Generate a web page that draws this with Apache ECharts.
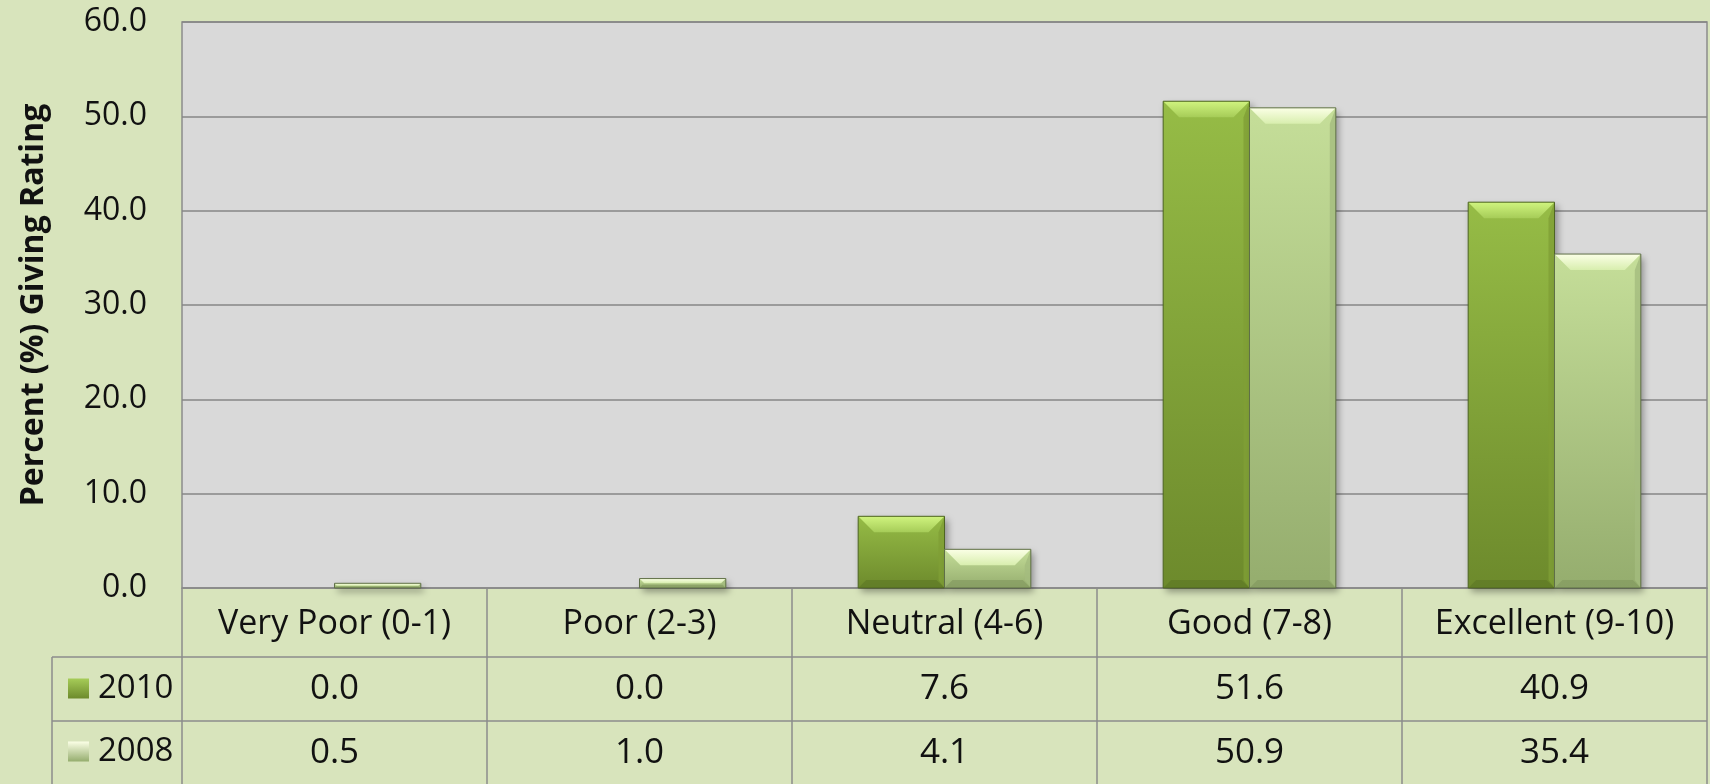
<!DOCTYPE html>
<html>
<head>
<meta charset="utf-8">
<script src="https://cdn.jsdelivr.net/npm/echarts@6/dist/echarts.min.js"></script>
<style>
  html, body { margin: 0; padding: 0; background: #d8e4bc; }
  #chart { width: 1710px; height: 784px; }
</style>
</head>
<body>
<div id="chart"></div>
<script>
// ratings by year
const categories = ['Very Poor (0-1)', 'Poor (2-3)', 'Neutral (4-6)', 'Good (7-8)', 'Excellent (9-10)'];
const values2010 = [0.0, 0.0, 7.6, 51.6, 40.9];
const values2008 = [0.5, 1.0, 4.1, 50.9, 35.4];
const yTicks = [0, 10, 20, 30, 40, 50, 60];

const GRID = {left: 182, right: 3, top: 22, bottom: 196};
const W = 1710, H = 784;
const ROW1 = 657, ROW2 = 721;
const LINE = '#8c8c8c';
const FONT = 'Open Sans';

const palette = [{
  top: '#96bc46', bottom: '#6d8a2c', capTop: '#d0f47f', capBottom: '#a6cc58',
  side: '#7f9f36', foot: '#5c7624', edge: '#4e6522'
}, {
  top: '#c5de99', bottom: '#95ad6e', capTop: '#fbffe6', capBottom: '#d8eeae',
  side: '#a4bb7e', foot: '#81965e', edge: '#5f6f47'
}];

function vgrad(a, b) {
  return new echarts.graphic.LinearGradient(0, 0, 0, 1, [
    {offset: 0, color: a}, {offset: 1, color: b}
  ]);
}

function bevelBar(idx) {
  const c = palette[idx];
  return function(params, api) {
    const cat = api.value(0);
    const val = api.value(1);
    const base = api.coord([cat, 0]);
    const top = api.coord([cat, val]);
    const band = api.size([1, 0])[0];
    const bw = band * 0.283;
    const x0 = idx === 0 ? base[0] - bw : base[0];
    const x1 = x0 + bw;
    const y0 = base[1];
    const y1 = top[1];
    const h = y0 - y1;
    if (h <= 0) return null;
    const b = Math.min(16, h / 2);
    const f = Math.min(8, h / 3);
    return {
      type: 'group',
      children: [{
        type: 'rect',
        shape: {x: x0, y: y1, width: bw, height: h},
        style: {
          fill: vgrad(c.top, c.bottom),
          shadowBlur: 7, shadowOffsetX: 3, shadowOffsetY: 4,
          shadowColor: 'rgba(0,0,0,0.35)'
        }
      }, {
        type: 'polygon',
        shape: {points: [[x1, y1], [x1, y0], [x1 - 6, y0 - f], [x1 - 6, y1 + b]]},
        style: {fill: c.side, opacity: 0.8}
      }, {
        type: 'polygon',
        shape: {points: [[x0, y0], [x1, y0], [x1 - f, y0 - f], [x0 + f, y0 - f]]},
        style: {fill: c.foot, opacity: 0.6}
      }, {
        type: 'polygon',
        shape: {points: [[x0, y1], [x1, y1], [x1 - b, y1 + b], [x0 + b, y1 + b]]},
        style: {fill: vgrad(c.capTop, c.capBottom)}
      }, {
        type: 'rect',
        shape: {x: x0, y: y1, width: bw, height: h},
        style: {fill: 'none', stroke: c.edge, lineWidth: 1}
      }]
    };
  };
}

function legendRow(name, top) {
  return {
    left: 63,
    top: top,
    itemWidth: 21,
    itemHeight: 20,
    icon: 'rect',
    data: [name],
    textStyle: {
      fontFamily: FONT,
      fontSize: 33,
      color: '#111',
      padding: [0, 0, 0, 4]
    }
  };
}

function renderChart() {
  const dom = document.getElementById('chart');
  const chart = echarts.init(dom);
  const textColor = '#111';
  const valueAxis = function(values, margin) {
    return {
      type: 'category',
      data: categories,
      position: 'bottom',
      axisLine: {show: false},
      axisTick: {show: false},
      splitLine: {show: false},
      axisLabel: {
        interval: 0,
        margin: margin,
        verticalAlign: 'middle',
        fontFamily: FONT,
        fontSize: 35,
        color: textColor,
        formatter: function(v, i) { return values[i].toFixed(1); }
      }
    };
  };
  const option = {
    backgroundColor: '#d8e4bc',
    animation: false,
    grid: {
      left: GRID.left, right: GRID.right, top: GRID.top, bottom: GRID.bottom,
      show: true,
      backgroundColor: '#d9d9d9',
      borderColor: LINE,
      borderWidth: 1.5
    },
    legend: [legendRow('2010', 667), legendRow('2008', 730)],
    xAxis: [{
      type: 'category',
      data: categories,
      position: 'bottom',
      boundaryGap: true,
      axisLine: {show: true, lineStyle: {color: LINE, width: 1.5}},
      axisTick: {
        show: true, interval: 0, length: GRID.bottom,
        lineStyle: {color: LINE, width: 1.5}
      },
      axisLabel: {
        interval: 0,
        margin: 36,
        verticalAlign: 'middle',
        fontFamily: FONT,
        fontSize: 34,
        color: textColor
      }
    }, valueAxis(values2010, 101), valueAxis(values2008, 165)],
    yAxis: {
      type: 'value',
      min: yTicks[0],
      max: yTicks[yTicks.length - 1],
      interval: 10,
      name: 'Percent (%) Giving Rating',
      nameLocation: 'middle',
      nameRotate: 90,
      nameGap: 132,
      nameTextStyle: {
        fontFamily: FONT,
        fontWeight: 'bold',
        fontSize: 32,
        color: textColor
      },
      axisLine: {show: false},
      axisTick: {show: false},
      splitLine: {lineStyle: {color: '#868686', width: 1.5}},
      axisLabel: {
        margin: 35,
        fontFamily: FONT,
        fontSize: 32,
        color: textColor,
        formatter: function(v) { return v.toFixed(1); }
      }
    },
    graphic: [{
      type: 'line',
      shape: {x1: 52, y1: ROW1, x2: W - GRID.right, y2: ROW1},
      style: {stroke: LINE, lineWidth: 1.5}
    }, {
      type: 'line',
      shape: {x1: 52, y1: ROW2, x2: W - GRID.right, y2: ROW2},
      style: {stroke: LINE, lineWidth: 1.5}
    }, {
      type: 'line',
      shape: {x1: 52, y1: ROW1, x2: 52, y2: H},
      style: {stroke: LINE, lineWidth: 1.5}
    }],
    series: [{
      name: '2010',
      type: 'custom',
      renderItem: bevelBar(0),
      itemStyle: {color: vgrad(palette[0].capBottom, palette[0].bottom)},
      encode: {x: 0, y: 1},
      data: values2010.map(function(v, i) { return [i, v]; }),
      z: 3
    }, {
      name: '2008',
      type: 'custom',
      renderItem: bevelBar(1),
      itemStyle: {color: vgrad(palette[1].capTop, palette[1].bottom)},
      encode: {x: 0, y: 1},
      data: values2008.map(function(v, i) { return [i, v]; }),
      z: 3
    }]
  };
  chart.setOption(option, true);
}

renderChart();
</script>
</body>
</html>
